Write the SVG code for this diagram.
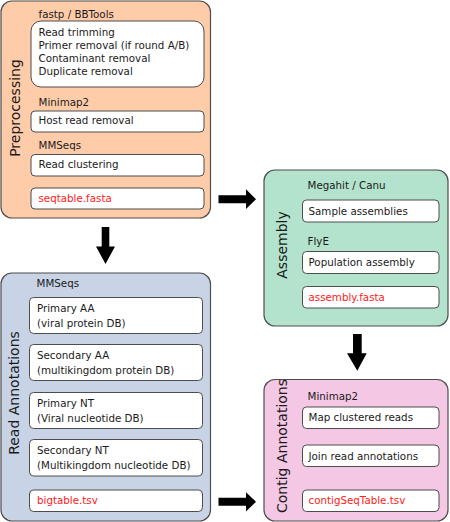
<svg xmlns="http://www.w3.org/2000/svg" width="450" height="522" viewBox="0 0 450 522">
<style>
.stage{stroke:#4d4d4d;stroke-width:1.2}
.box{fill:#ffffff;stroke:#4d4d4d;stroke-width:1}
text{font-family:"DejaVu Sans",sans-serif;font-size:10.3px;fill:#1a1a1a}
.title{font-size:14px}
.out{fill:#ff2020}
.arrow{fill:#000000}
</style>
<rect width="450" height="522" fill="#ffffff"/>
<g id="preprocessing">
<rect class="stage" x="1" y="1" width="209.5" height="217" rx="11" fill="#ffccaa"/>
<text class="title" transform="translate(20,108) rotate(-90)" text-anchor="middle">Preprocessing</text>
<text x="38.5" y="17.5">fastp / BBTools</text>
<rect class="box" x="31" y="21" width="173" height="66" rx="10"/>
<text x="38.5" y="36">Read trimming</text>
<text x="38.5" y="49">Primer removal (if round A/B)</text>
<text x="38.5" y="62">Contaminant removal</text>
<text x="38.5" y="75">Duplicate removal</text>
<text x="38.5" y="106">Minimap2</text>
<rect class="box" x="31" y="111" width="173" height="21" rx="4"/>
<text x="38.5" y="124">Host read removal</text>
<text x="38.5" y="149">MMSeqs</text>
<rect class="box" x="31" y="154.5" width="173" height="21.5" rx="4"/>
<text x="38.5" y="168">Read clustering</text>
<rect class="box" x="31" y="188" width="173" height="21" rx="4"/>
<text class="out" x="38.5" y="201.5">seqtable.fasta</text>
</g>
<g id="read-annotations">
<rect class="stage" x="1" y="273" width="209.5" height="248" rx="11" fill="#c8d4e6"/>
<text class="title" transform="translate(18.5,393) rotate(-90)" text-anchor="middle">Read Annotations</text>
<text x="36.5" y="287">MMSeqs</text>
<rect class="box" x="29.5" y="297.5" width="173" height="36" rx="4"/>
<text x="37" y="311.5">Primary AA</text>
<text x="37" y="327">(viral protein DB)</text>
<rect class="box" x="29.5" y="344.5" width="173" height="36" rx="4"/>
<text x="37" y="358.5">Secondary AA</text>
<text x="37" y="374">(multikingdom protein DB)</text>
<rect class="box" x="29.5" y="392.5" width="173" height="36" rx="4"/>
<text x="37" y="406.5">Primary NT</text>
<text x="37" y="422">(Viral nucleotide DB)</text>
<rect class="box" x="29.5" y="439.5" width="173" height="36.5" rx="4"/>
<text x="37" y="453.5">Secondary NT</text>
<text x="37" y="469">(Multikingdom nucleotide DB)</text>
<rect class="box" x="29.5" y="490" width="173" height="21.5" rx="4"/>
<text class="out" x="37" y="504">bigtable.tsv</text>
</g>
<g id="assembly">
<rect class="stage" x="264" y="170" width="184" height="156" rx="11" fill="#b3e3cc"/>
<text class="title" transform="translate(286.5,245) rotate(-90)" text-anchor="middle">Assembly</text>
<text x="307.5" y="188.5">Megahit / Canu</text>
<rect class="box" x="302.5" y="200" width="136.5" height="22" rx="4"/>
<text x="308.5" y="214.5">Sample assemblies</text>
<text x="307.5" y="244.5">FlyE</text>
<rect class="box" x="302.5" y="251.5" width="136.5" height="22" rx="4"/>
<text x="308.5" y="265.5">Population assembly</text>
<rect class="box" x="302.5" y="286.5" width="136.5" height="21.5" rx="4"/>
<text class="out" x="308.5" y="300.5">assembly.fasta</text>
</g>
<g id="contig-annotations">
<rect class="stage" x="264" y="379.5" width="184" height="141.5" rx="11" fill="#f4c8e4"/>
<text class="title" transform="translate(286.5,446) rotate(-90)" text-anchor="middle">Contig Annotations</text>
<text x="307.5" y="399.5">Minimap2</text>
<rect class="box" x="302.5" y="407" width="136.5" height="21.5" rx="4"/>
<text x="308.5" y="420.5">Map clustered reads</text>
<rect class="box" x="302.5" y="445" width="136.5" height="21.5" rx="4"/>
<text x="308.5" y="459.5">Join read annotations</text>
<rect class="box" x="302.5" y="490" width="136.5" height="21.5" rx="4"/>
<text class="out" x="308.5" y="503.5">contigSeqTable.tsv</text>
</g>
<g id="connectors">
<polygon class="arrow" points="101.7,227 109.3,227 109.3,246.5 115,246.5 105.5,264 96,246.5 101.7,246.5"/>
<polygon class="arrow" points="218.5,195.3 246,195.3 246,189.3 256,199.3 246,209 246,203.3 218.5,203.3"/>
<polygon class="arrow" points="353,334 361.7,334 361.7,353.3 366.7,353.3 357.3,370.7 347,353.3 353,353.3"/>
<polygon class="arrow" points="218.5,497.7 246,497.7 246,492.3 256,501.8 246,511.5 246,505.7 218.5,505.7"/>
</g>
</svg>
